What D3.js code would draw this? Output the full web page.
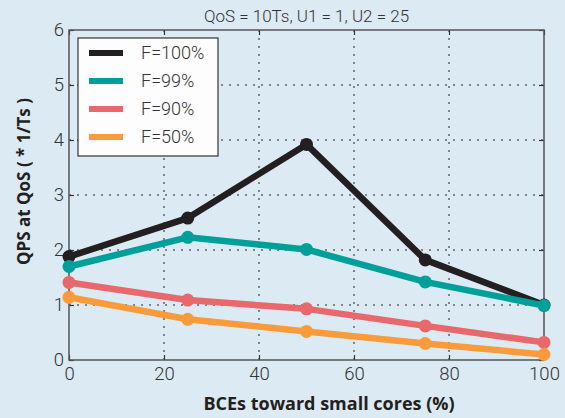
<!DOCTYPE html>
<html>
<head>
<meta charset="utf-8">
<script src="https://cdn.jsdelivr.net/npm/d3@7"></script>
<style>
  html, body { margin: 0; padding: 0; background: #dbeaf3; }
  svg { display: block; }
</style>
</head>
<body>
<svg id="chart" width="565" height="418"></svg>
<script>
// Share of BCEs given to small cores (%)
const bces = [0, 25, 50, 75, 100];
const seriesNames = ["F=100%", "F=99%", "F=90%", "F=50%"];
const f100 = [1.88, 2.58, 3.92, 1.82, 1.00];
const f99  = [1.70, 2.23, 2.01, 1.42, 0.99];
const f90  = [1.41, 1.09, 0.93, 0.62, 0.32];
const f50  = [1.14, 0.74, 0.52, 0.30, 0.10];
const seriesColors = ["#231f20", "#00a09a", "#e8686b", "#f99a3b"];
const xTicks = [0, 20, 40, 60, 80, 100];
const yTicks = [0, 1, 2, 3, 4, 5, 6];

const series = [f100, f99, f90, f50].map((vals, i) => ({
  name: seriesNames[i], color: seriesColors[i],
  points: vals.map((v, j) => ({ x: bces[j], y: v }))
}));

const svg = d3.select("#chart");
const plotL = 69, plotR = 544, plotT = 30, plotB = 360;

const x = d3.scaleLinear().domain([0, 100]).range([plotL, plotR]);
const y = d3.scaleLinear().domain([0, 6]).range([plotB, plotT]);

const tickFont = "Roboto, 'Liberation Sans', sans-serif";
const labelFont = "'Open Sans', sans-serif";

// grid
const grid = svg.append("g");
grid.selectAll("line.gx").data(xTicks.slice(1, -1)).join("line")
  .attr("x1", d => x(d)).attr("x2", d => x(d))
  .attr("y1", plotT).attr("y2", plotB)
  .attr("stroke", "#222").attr("stroke-width", 1).attr("stroke-dasharray", "2,6");
grid.selectAll("line.gy").data(yTicks.slice(1, -1)).join("line")
  .attr("y1", d => y(d)).attr("y2", d => y(d))
  .attr("x1", plotL).attr("x2", plotR)
  .attr("stroke", "#222").attr("stroke-width", 1).attr("stroke-dasharray", "2,6");

// inward ticks on all four sides
const axB = d3.axisBottom(x).tickValues(xTicks).tickSize(-5).tickPadding(7).tickFormat(d3.format("d"));
const axT = d3.axisTop(x).tickValues(xTicks).tickSize(-5).tickFormat("");
const axL = d3.axisLeft(y).tickValues(yTicks).tickSize(-5).tickPadding(5).tickFormat(d3.format("d"));
const axR = d3.axisRight(y).tickValues(yTicks).tickSize(-5).tickFormat("");

function styleAxis(g) {
  g.select(".domain").remove();
  g.selectAll(".tick line").attr("stroke", "#333").attr("stroke-width", 1.2);
  g.selectAll(".tick text").attr("fill", "#333").attr("font-family", tickFont)
    .attr("font-weight", 300).attr("font-size", 18.5);
}
svg.append("g").attr("transform", `translate(0,${plotB})`).call(axB).call(styleAxis);
svg.append("g").attr("transform", `translate(0,${plotT})`).call(axT).call(styleAxis);
svg.append("g").attr("transform", `translate(${plotL},0)`).call(axL).call(styleAxis);
svg.append("g").attr("transform", `translate(${plotR},0)`).call(axR).call(styleAxis);

// frame
svg.append("rect").attr("x", plotL).attr("y", plotT)
  .attr("width", plotR - plotL).attr("height", plotB - plotT)
  .attr("fill", "none").attr("stroke", "#555").attr("stroke-width", 1.5);

// series lines and markers
const line = d3.line().x(d => x(d.x)).y(d => y(d.y));
const sg = svg.append("g");
series.forEach(s => {
  const g = sg.append("g");
  g.append("path").datum(s.points).attr("d", line)
    .attr("fill", "none").attr("stroke", s.color).attr("stroke-width", 6.5)
    .attr("stroke-linejoin", "round");
  g.selectAll("circle").data(s.points).join("circle")
    .attr("cx", d => x(d.x)).attr("cy", d => y(d.y)).attr("r", 6.5)
    .attr("fill", s.color);
});

// legend
const lg = svg.append("g");
lg.append("rect").attr("x", 78).attr("y", 38).attr("width", 140).attr("height", 118)
  .attr("fill", "#fdfdfd").attr("stroke", "#333").attr("stroke-width", 1.2);
series.forEach((s, i) => {
  const yy = 53 + i * 28;
  lg.append("line").attr("x1", 89).attr("x2", 123).attr("y1", yy).attr("y2", yy)
    .attr("stroke", s.color).attr("stroke-width", 6);
  lg.append("text").attr("x", 141).attr("y", yy).attr("dy", "0.36em")
    .attr("font-family", tickFont).attr("font-weight", 300).attr("font-size", 18)
    .attr("fill", "#333").text(s.name);
});

// title and axis labels
svg.append("text").attr("x", (plotL + plotR) / 2).attr("y", 22)
  .attr("text-anchor", "middle").attr("font-family", tickFont).attr("font-weight", 300)
  .attr("font-size", 17).attr("fill", "#333").text("QoS = 10Ts, U1 = 1, U2 = 25");
svg.append("text").attr("x", 329).attr("y", 410)
  .attr("text-anchor", "middle").attr("font-family", labelFont).attr("font-weight", 700)
  .attr("font-size", 18).attr("fill", "#231f20").text("BCEs toward small cores (%)");
svg.append("text").attr("transform", "translate(24,181.5) rotate(-90)")
  .attr("text-anchor", "middle").attr("dy", "0.35em").attr("font-family", labelFont).attr("font-weight", 700)
  .attr("font-size", 17).attr("fill", "#231f20").text("QPS at QoS ( * 1/Ts )");
</script>
</body>
</html>
